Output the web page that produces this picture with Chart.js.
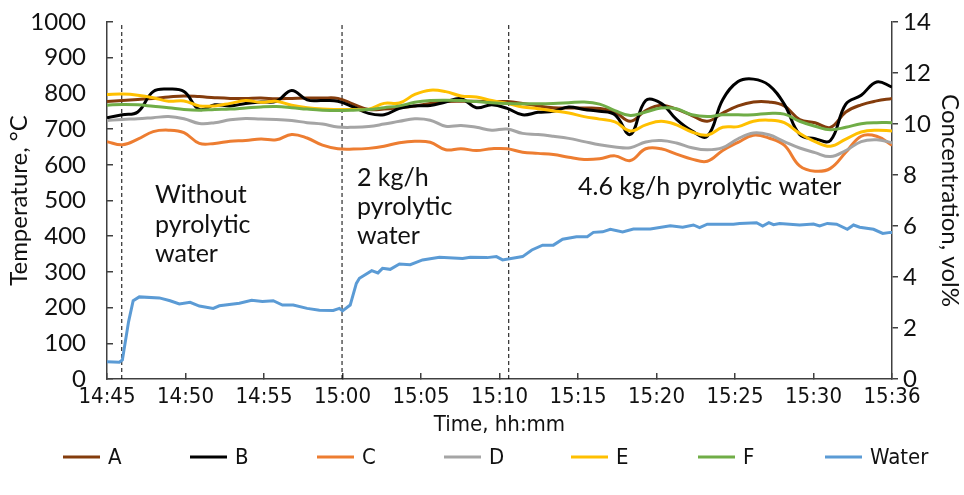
<!DOCTYPE html>
<html>
<head>
<meta charset="utf-8">
<script src="https://cdn.jsdelivr.net/npm/chart.js@4/dist/chart.umd.min.js"></script>
<style>
  body { margin: 0; background: #fff; }
  canvas { display: block; }
</style>
</head>
<body>
<canvas id="chart" width="964" height="495"></canvas>
<script>
// x axis labels (equally spaced)
const tickLabels = ["14:45", "14:50", "14:55", "15:00", "15:05", "15:10", "15:15", "15:20", "15:25", "15:30", "15:36"];

// minutes since 14:45
const tempTime = [0, 1, 2, 3, 4, 5, 6, 7, 8, 9, 10, 11, 12, 13, 14, 15, 16, 17, 18, 19, 20, 21, 22, 23, 24, 25,
  26, 27, 28, 29, 30, 31, 32, 33, 34, 35, 36, 37, 38, 39, 40, 41, 42, 43, 44, 45, 46, 47, 48, 49, 50, 51];

// temperatures, °C
const tempA = [777, 780, 783, 786, 790, 793, 791, 788, 786, 786, 787, 785, 786, 787, 787, 786, 770, 755, 756, 760,
  765, 772, 777, 778, 778, 777, 777, 772, 765, 760, 759, 759, 758, 748, 722, 752, 767, 756, 738, 722,
  745, 765, 776, 776, 765, 727, 718, 705, 748, 768, 779, 786];
const tempB = [732, 740, 748, 805, 812, 805, 755, 768, 765, 772, 776, 778, 808, 782, 780, 778, 762, 744, 740, 758,
  765, 766, 776, 785, 760, 768, 758, 740, 747, 750, 762, 755, 750, 740, 685, 780, 772, 727, 695, 680,
  782, 833, 840, 823, 770, 685, 673, 668, 770, 795, 832, 818];
const tempC = [665, 656, 672, 693, 697, 690, 660, 660, 666, 668, 672, 670, 685, 675, 655, 645, 644, 646, 652, 662,
  666, 663, 642, 645, 640, 645, 645, 635, 632, 629, 621, 615, 617, 625, 612, 645, 645, 630, 616, 610,
  640, 663, 683, 675, 655, 597, 582, 590, 635, 680, 680, 655];
const tempD = [724, 727, 729, 732, 735, 729, 716, 718, 726, 730, 728, 727, 724, 718, 714, 706, 705, 707, 714, 722,
  729, 725, 708, 710, 705, 697, 700, 688, 685, 680, 674, 665, 656, 650, 648, 664, 668, 661, 648, 642,
  648, 673, 689, 684, 665, 647, 634, 623, 640, 665, 670, 662];
const tempE = [797, 798, 795, 788, 778, 779, 765, 765, 772, 780, 775, 778, 767, 760, 756, 755, 755, 756, 772, 773,
  797, 809, 805, 793, 790, 780, 772, 762, 757, 751, 745, 735, 728, 720, 695, 712, 722, 712, 692, 683,
  705, 707, 722, 725, 718, 688, 665, 652, 672, 692, 697, 695];
const tempF = [767, 769, 768, 764, 760, 755, 753, 755, 756, 759, 762, 763, 760, 756, 753, 752, 753, 755, 760, 765,
  775, 780, 781, 780, 777, 774, 772, 771, 771, 772, 774, 776, 770, 752, 738, 748, 759, 757, 740, 735,
  740, 740, 740, 744, 742, 722, 708, 698, 705, 715, 718, 718];

// water concentration, vol%
const waterTime = [0, 0.8, 1.0, 1.4, 1.7, 2.1, 3.4, 4.1, 4.7, 5.4, 6.0, 6.9, 7.3, 8.6, 9.4, 10.1, 10.8, 11.4, 12.1,
  13.0, 13.8, 14.7, 15.1, 15.3, 15.8, 16.2, 16.4, 17.2, 17.6, 17.9, 18.4, 19.0, 19.7, 20.5, 21.6, 23.1, 23.6,
  24.7, 25.3, 25.7, 27.0, 27.6, 28.3, 29.0, 29.6, 30.5, 31.2, 31.6, 32.2, 32.7, 33.5, 34.2, 35.3, 36.6, 37.4,
  38.1, 38.5, 39.0, 40.7, 41.1, 42.2, 42.6, 43.0, 43.3, 43.7, 45.0, 45.9, 46.3, 46.8, 47.4, 48.1, 48.5, 48.9,
  49.8, 50.4, 50.9, 51];
const waterConc = [0.68, 0.66, 0.75, 2.24, 3.07, 3.22, 3.18, 3.07, 2.94, 3.01, 2.86, 2.77, 2.87, 2.97, 3.09, 3.04,
  3.07, 2.90, 2.90, 2.77, 2.70, 2.69, 2.77, 2.67, 2.90, 3.75, 3.95, 4.25, 4.16, 4.34, 4.30, 4.51, 4.48, 4.67,
  4.77, 4.73, 4.77, 4.76, 4.80, 4.67, 4.80, 5.06, 5.25, 5.25, 5.48, 5.58, 5.58, 5.75, 5.77, 5.87, 5.77, 5.88,
  5.88, 6.01, 5.95, 6.04, 5.94, 6.07, 6.07, 6.10, 6.13, 6.00, 6.13, 6.05, 6.10, 6.04, 6.08, 6.00, 6.10, 6.07,
  5.87, 6.04, 5.95, 5.87, 5.71, 5.75, 5.75];

// times where the feed changes (dashed lines)
const changeTimes = [0.96, 15.27, 26.1];

const narrow = "'DejaVu Sans Condensed', 'Liberation Sans Narrow', 'DejaVu Sans', sans-serif";
const calibriLike = "Lato, 'Open Sans', sans-serif";
const axisColor = "#404040";

function pts(times, vals) {
  return times.map((t, i) => ({ x: t, y: vals[i] }));
}

const series = [
  { label: "A", data: tempA, color: "#843C0C" },
  { label: "B", data: tempB, color: "#000000" },
  { label: "C", data: tempC, color: "#ED7D31" },
  { label: "D", data: tempD, color: "#A5A5A5" },
  { label: "E", data: tempE, color: "#FFC000" },
  { label: "F", data: tempF, color: "#70AD47" },
];

const datasets = series.map((s, i) => ({
  label: s.label,
  data: pts(tempTime, s.data),
  borderColor: s.color,
  backgroundColor: s.color,
  borderWidth: 3,
  pointRadius: 0,
  tension: 0.4,
  yAxisID: "y",
  order: 10 - i,
}));

datasets.push({
  label: "Water",
  data: pts(waterTime, waterConc),
  borderColor: "#5B9BD5",
  backgroundColor: "#5B9BD5",
  borderWidth: 3,
  pointRadius: 0,
  tension: 0,
  yAxisID: "y2",
  order: 3,
});

changeTimes.forEach((t) => {
  datasets.push({
    label: "",
    isMarker: true,
    data: [{ x: t, y: 0 }, { x: t, y: 1000 }],
    borderColor: "#000",
    borderWidth: 1,
    borderDash: [4, 3],
    pointRadius: 0,
    yAxisID: "y",
    order: 20,
  });
});

// text notes, placed in data units (minutes, °C)
const notes = [
  { x: 3.12, y: [515, 431, 350], lines: ["Without", "pyrolytic", "water"] },
  { x: 16.24, y: [563, 482, 401], lines: ["2 kg/h", "pyrolytic", "water"] },
  { x: 30.6, y: [538], lines: ["4.6 kg/h pyrolytic water"] },
];

const notesPlugin = {
  id: "notes",
  afterDatasetsDraw(chart) {
    const { ctx, scales } = chart;
    ctx.save();
    ctx.font = "25px " + calibriLike;
    ctx.fillStyle = "#111";
    ctx.textAlign = "left";
    ctx.textBaseline = "middle";
    notes.forEach((n) => {
      n.lines.forEach((line, i) => {
        ctx.fillText(line, scales.x.getPixelForValue(n.x), scales.y.getPixelForValue(n.y[i]));
      });
    });
    ctx.restore();
  },
};

// Excel style legend: evenly spaced entries in one row
const evenLegend = {
  id: "evenLegend",
  afterDraw(chart, args, opts) {
    const { ctx } = chart;
    ctx.save();
    ctx.font = "22px " + narrow;
    ctx.textBaseline = "middle";
    ctx.textAlign = "left";
    chart.data.datasets.filter((d) => !d.isMarker).forEach((d, i) => {
      const x = opts.left + i * opts.step;
      ctx.strokeStyle = d.borderColor;
      ctx.lineWidth = 3;
      ctx.beginPath();
      ctx.moveTo(x, opts.y);
      ctx.lineTo(x + 37, opts.y);
      ctx.stroke();
      ctx.fillStyle = "#111";
      ctx.fillText(d.label, x + 45, opts.y + 1);
    });
    ctx.restore();
  },
};

// fixed axis box: width, and only half a label of overhang above/below
function fixAxis(width) {
  return (scale) => {
    scale.width = width;
    scale.paddingTop = 14;
    scale.paddingBottom = 14;
  };
}

const chart = new Chart(document.getElementById("chart"), {
  type: "line",
  data: { datasets },
  options: {
    responsive: false,
    animation: false,
    layout: { padding: { top: 22, left: 0, right: 0, bottom: 59 } },
    plugins: {
      tooltip: { enabled: false },
      legend: { display: false },
      evenLegend: { left: 63, step: 127, y: 457 },
    },
    scales: {
      x: {
        type: "linear",
        min: 0,
        max: 51,
        afterBuildTicks: (scale) => {
          scale.ticks = tickLabels.map((_, i) => ({ value: (i * 51) / (tickLabels.length - 1) }));
        },
        afterFit: (scale) => { scale.height = 57; },
        ticks: {
          callback: (v, i) => tickLabels[i],
          maxRotation: 0,
          autoSkip: false,
          padding: 11,
          color: "#111",
          font: { family: narrow, size: 22 },
        },
        grid: { drawOnChartArea: false, tickLength: -6, color: axisColor, lineWidth: 1.5 },
        border: { color: axisColor, width: 1.5 },
        title: {
          display: true,
          text: "Time, hh:mm",
          color: "#111",
          font: { family: narrow, size: 22, lineHeight: 1 },
          padding: { top: 0, bottom: 0 },
        },
      },
      y: {
        position: "left",
        min: 0,
        max: 1000,
        afterFit: fixAxis(107),
        ticks: {
          stepSize: 100,
          padding: 27,
          color: "#111",
          callback: (v) => String(v),
          font: { family: calibriLike, size: 24 },
        },
        grid: { drawOnChartArea: false, tickLength: -6, color: axisColor, lineWidth: 1.5 },
        border: { color: axisColor, width: 1.5 },
        title: {
          display: true,
          text: "Temperature, °C",
          color: "#111",
          font: { family: calibriLike, size: 24, lineHeight: 1.1 },
          padding: { top: 6, bottom: 0 },
        },
      },
      y2: {
        position: "right",
        min: 0,
        max: 14,
        afterFit: fixAxis(964 - 892),
        ticks: {
          stepSize: 2,
          padding: 5,
          color: "#111",
          font: { family: calibriLike, size: 24 },
        },
        grid: { drawOnChartArea: false, tickLength: 6, color: axisColor, lineWidth: 1.5 },
        border: { color: axisColor, width: 1.5 },
        title: {
          display: true,
          text: "Concentration, vol%",
          color: "#111",
          font: { family: calibriLike, size: 24, lineHeight: 1.1 },
          padding: { top: 1, bottom: 0 },
        },
      },
    },
  },
  plugins: [notesPlugin, evenLegend],
});

// plot area top edge sits at y = 22 in the reference
for (let k = 0; k < 3; k++) {
  const dTop = 22 - chart.chartArea.top;
  if (Math.abs(dTop) < 0.5) break;
  chart.config.options.layout.padding.top += dTop;
  chart.update();
}
</script>
</body>
</html>
